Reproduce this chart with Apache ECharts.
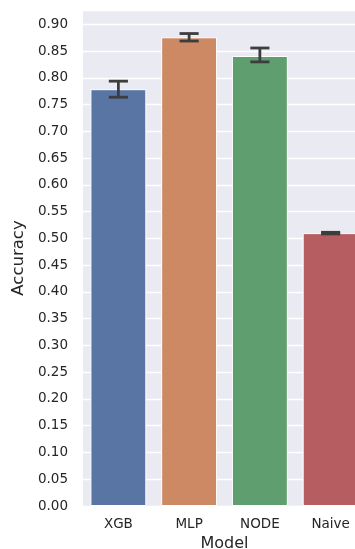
<!DOCTYPE html>
<html>
<head>
<meta charset="utf-8">
<script src="https://cdn.jsdelivr.net/npm/echarts@6/dist/echarts.min.js"></script>
<style>
  html, body { margin: 0; padding: 0; background: #ffffff; }
  #chart { width: 355px; height: 549px; }
</style>
</head>
<body>
<div id="chart"></div>
<script>
// Mean accuracy per model with confidence interval bounds
var categories = ['XGB', 'MLP', 'NODE', 'Naive'];
var accuracy = [0.779, 0.876, 0.841, 0.510];
var ciLow = [0.764, 0.869, 0.830, 0.5085];
var ciHigh = [0.794, 0.883, 0.856, 0.5115];
var barColors = ['#5975a4', '#cc8963', '#5f9e6e', '#b55d60'];

var chart = echarts.init(document.getElementById('chart'), null, { renderer: 'canvas' });

var errorData = categories.map(function (c, i) { return [i, ciLow[i], ciHigh[i]]; });

chart.setOption({
  animation: false,
  backgroundColor: '#ffffff',
  textStyle: { fontFamily: 'DejaVu Sans' },
  grid: {
    left: 83, top: 10, right: -11, bottom: 43,
    containLabel: false,
    outerBoundsMode: 'none',
    show: true, backgroundColor: '#eaeaf2', borderWidth: 0
  },
  xAxis: {
    type: 'category',
    data: categories,
    name: 'Model',
    nameLocation: 'middle',
    nameGap: 29,
    nameTextStyle: { fontSize: 16, color: '#262626', fontFamily: 'DejaVu Sans' },
    axisLine: { show: false },
    axisTick: { show: false },
    axisLabel: { fontSize: 13.5, color: '#262626', margin: 11, fontFamily: 'DejaVu Sans' },
    splitLine: { show: false }
  },
  yAxis: {
    type: 'value',
    min: 0,
    max: 0.927,
    interval: 0.05,
    name: 'Accuracy',
    nameLocation: 'middle',
    nameGap: 53,
    nameRotate: 90,
    nameTextStyle: { fontSize: 16.5, color: '#262626', fontFamily: 'DejaVu Sans' },
    axisLine: { show: false },
    axisTick: { show: false },
    axisLabel: {
      fontSize: 13.5, color: '#262626', margin: 15, fontFamily: 'DejaVu Sans',
      showMaxLabel: false,
      formatter: function (v) { return v.toFixed(2); }
    },
    splitLine: { show: true, lineStyle: { color: '#ffffff', width: 1.3 } }
  },
  series: [
    {
      type: 'bar',
      data: accuracy.map(function (v, i) {
        return { value: v, itemStyle: { color: barColors[i] } };
      }),
      barWidth: '79%',
      itemStyle: { borderColor: '#ffffff', borderWidth: 1 },
      z: 2
    },
    {
      type: 'custom',
      data: errorData,
      z: 3,
      renderItem: function (params, api) {
        var x = api.value(0);
        var lo = api.coord([x, api.value(1)]);
        var hi = api.coord([x, api.value(2)]);
        var half = api.size([1, 0])[0] * 0.135;
        var style = { stroke: '#3d3d3d', lineWidth: 2.8, lineCap: 'butt' };
        return {
          type: 'group',
          children: [
            { type: 'line', shape: { x1: lo[0], y1: lo[1], x2: hi[0], y2: hi[1] }, style: style },
            { type: 'line', shape: { x1: hi[0] - half, y1: hi[1], x2: hi[0] + half, y2: hi[1] }, style: style },
            { type: 'line', shape: { x1: lo[0] - half, y1: lo[1], x2: lo[0] + half, y2: lo[1] }, style: style }
          ]
        };
      }
    }
  ]
});
</script>
</body>
</html>
